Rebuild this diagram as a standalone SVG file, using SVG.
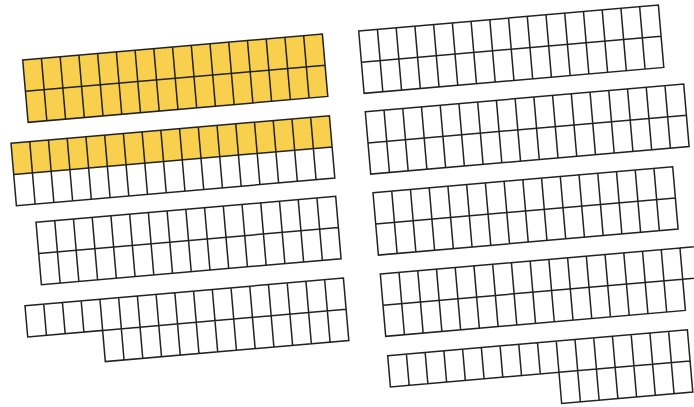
<svg xmlns="http://www.w3.org/2000/svg" width="694" height="407" viewBox="0 0 694 407">
<style>
.bg{fill:#ffffff}
.y{fill:#f8d04e;stroke:none}
.ln{fill:none;stroke:#222222;stroke-width:1.5;stroke-linejoin:miter}
</style>
<defs>
<path id="v16" d="M18.8 0V62.6M37.6 0V62.6M56.4 0V62.6M75.2 0V62.6M94 0V62.6M112.8 0V62.6M131.6 0V62.6M150.4 0V62.6M169.2 0V62.6M188 0V62.6M206.8 0V62.6M225.6 0V62.6M244.4 0V62.6M263.2 0V62.6M282 0V62.6"/>
<path id="g16" d="M0 0H300.8V62.6H0ZM0 31.3H300.8"/>
<path id="g17" d="M0 0H319.6V62.6H0ZM0 31.3H319.6M300.8 0V62.6"/>
</defs>
<rect class="bg" x="0" y="0" width="694" height="407"/>

<g id="grid-left-1" transform="translate(22.7 60) rotate(-4.95)">
<rect class="y" x="0" y="0" width="300.8" height="62.6"/>
<use href="#g16" class="ln"/>
<use href="#v16" class="ln"/>
</g>

<g id="grid-left-2" transform="translate(11 143.3) rotate(-4.95)">
<rect class="y" x="0" y="0" width="319.6" height="31.3"/>
<use href="#g17" class="ln"/>
<use href="#v16" class="ln"/>
</g>

<g id="grid-left-3" transform="translate(36 222.3) rotate(-4.95)">
<use href="#g16" class="ln"/>
<use href="#v16" class="ln"/>
</g>

<g id="grid-left-4" transform="translate(25 305.7) rotate(-4.95)">
<path class="ln" d="M0 0H319.6V62.6H75.2V31.3H0ZM75.2 31.3H319.6M18.8 0V31.3M37.6 0V31.3M56.4 0V31.3M75.2 0V31.3M94 0V62.6M112.8 0V62.6M131.6 0V62.6M150.4 0V62.6M169.2 0V62.6M188 0V62.6M206.8 0V62.6M225.6 0V62.6M244.4 0V62.6M263.2 0V62.6M282 0V62.6M300.8 0V62.6"/>
</g>

<g id="grid-right-1" transform="translate(358.7 31) rotate(-4.95)">
<use href="#g16" class="ln"/>
<use href="#v16" class="ln"/>
</g>

<g id="grid-right-2" transform="translate(365.3 111.7) rotate(-4.95)">
<use href="#g17" class="ln"/>
<use href="#v16" class="ln"/>
</g>

<g id="grid-right-3" transform="translate(373 192.7) rotate(-4.95)">
<use href="#g16" class="ln"/>
<use href="#v16" class="ln"/>
</g>

<g id="grid-right-4" transform="translate(380.3 274) rotate(-4.95)">
<use href="#g16" class="ln"/>
<use href="#v16" class="ln"/>
<path class="ln" d="M300.8 0H340M300.8 31.3H340"/>
</g>

<g id="grid-right-5" transform="translate(387.7 355.7) rotate(-4.95)">
<path class="ln" d="M0 0H300.8V62.6H169.2V31.3H0ZM169.2 31.3H300.8M18.8 0V31.3M37.6 0V31.3M56.4 0V31.3M75.2 0V31.3M94 0V31.3M112.8 0V31.3M131.6 0V31.3M150.4 0V31.3M169.2 0V31.3M188 0V62.6M206.8 0V62.6M225.6 0V62.6M244.4 0V62.6M263.2 0V62.6M282 0V62.6"/>
</g>
</svg>
